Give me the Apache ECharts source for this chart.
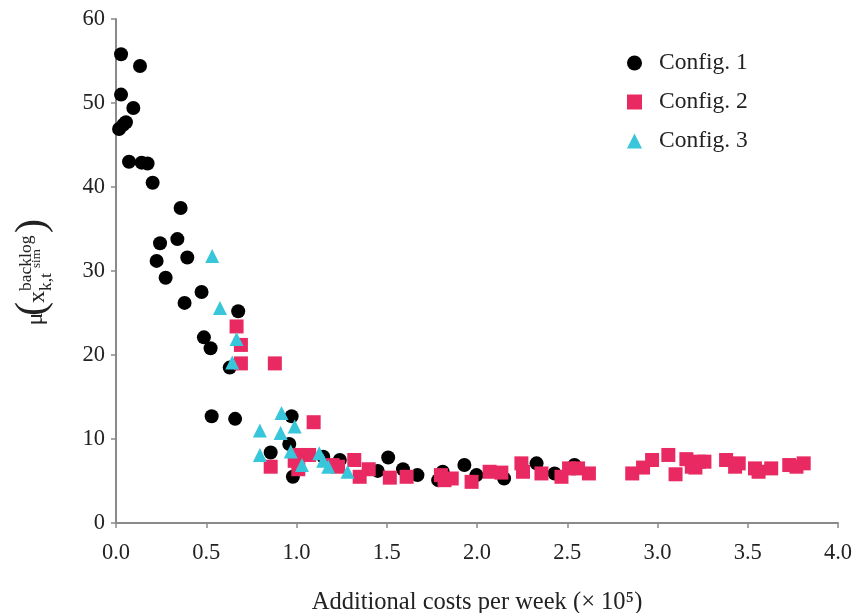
<!DOCTYPE html>
<html>
<head>
<meta charset="utf-8">
<script src="https://cdn.jsdelivr.net/npm/echarts@6/dist/echarts.min.js"></script>
<style>html,body{margin:0;padding:0;background:#fff;}#c{width:853px;height:613px;}</style>
</head>
<body>
<div id="c"></div>
<script>
var xTicks = ['0.0','0.5','1.0','1.5','2.0','2.5','3.0','3.5','4.0'];
var yTicks = [0,10,20,30,40,50,60];
var seriesNames = ['Config. 1','Config. 2','Config. 3'];
var config1 = [[0.028,55.8],[0.133,54.4],[0.028,51.0],[0.096,49.4],[0.055,47.7],[0.04,47.4],[0.017,46.9],[0.072,43.0],[0.142,42.9],[0.175,42.8],[0.203,40.5],[0.358,37.5],[0.244,33.3],[0.34,33.8],[0.225,31.2],[0.395,31.6],[0.275,29.2],[0.38,26.2],[0.474,27.5],[0.487,22.1],[0.524,20.8],[0.677,25.2],[0.63,18.5],[0.53,12.7],[0.66,12.4],[0.973,12.7],[0.96,9.4],[0.857,8.4],[0.98,5.5],[1.148,7.9],[1.24,7.5],[1.45,6.2],[1.508,7.8],[1.59,6.4],[1.67,5.7],[1.785,5.1],[1.81,6.1],[1.93,6.9],[1.997,5.7],[2.15,5.3],[2.33,7.1],[2.43,5.9],[2.54,6.9]];
var config2 = [[0.668,23.4],[0.692,21.2],[0.692,19.0],[0.88,19.0],[1.095,12.0],[0.857,6.7],[1.0,8.1],[0.99,7.4],[1.01,6.4],[1.07,8.1],[1.2,6.9],[1.23,6.7],[1.32,7.5],[1.35,5.5],[1.40,6.4],[1.517,5.4],[1.61,5.5],[1.80,5.7],[1.82,5.1],[1.86,5.3],[1.97,4.9],[2.07,6.1],[2.135,6.0],[2.246,7.1],[2.255,6.1],[2.357,5.9],[2.468,5.5],[2.51,6.5],[2.56,6.5],[2.62,5.9],[2.86,5.9],[2.92,6.6],[2.97,7.5],[3.06,8.1],[3.10,5.8],[3.16,7.6],[3.19,6.7],[3.23,7.3],[3.21,6.6],[3.26,7.3],[3.38,7.5],[3.43,6.7],[3.45,7.1],[3.54,6.5],[3.56,6.1],[3.63,6.5],[3.73,6.9],[3.77,6.7],[3.81,7.1]];
var config3 = [[0.533,31.8],[0.576,25.6],[0.668,21.9],[0.644,19.1],[0.917,13.1],[0.99,11.5],[0.797,11.0],[0.912,10.7],[0.797,8.1],[0.968,8.5],[1.03,6.9],[1.126,8.3],[1.148,7.4],[1.176,6.7],[1.283,6.1]];

var SERIF = '"Liberation Serif", "DejaVu Serif", serif';
var chart = echarts.init(document.getElementById('c'), null, {renderer:'canvas'});
chart.setOption({
  animation:false,
  backgroundColor:'#fff',
  grid:{left:116, right:15, top:19, bottom:90, containLabel:false, outerBoundsMode:'none'},
  legend:{
    orient:'vertical', left:622, top:46, itemGap:15, itemWidth:15, itemHeight:15,
    data:seriesNames,
    textStyle:{fontFamily:SERIF, fontSize:23.5, color:'#222', padding:[0,0,0,12]}
  },
  xAxis:{
    type:'value', min:0, max:4, interval:0.5,
    axisLine:{lineStyle:{color:'#8a8a8a', width:2}},
    axisTick:{show:true, length:5, lineStyle:{color:'#8a8a8a', width:1.5}},
    splitLine:{show:false},
    axisLabel:{margin:19, fontFamily:SERIF, fontSize:22.5, color:'#222',
      formatter:function(v){var i=Math.round(v/0.5);return xTicks[i];}},
    name:'Additional costs per week (× 10⁵)', nameLocation:'middle', nameGap:67,
    nameTextStyle:{fontFamily:SERIF, fontSize:24.5, color:'#222'}
  },
  yAxis:{
    type:'value', min:0, max:60, interval:10,
    axisLine:{show:true, lineStyle:{color:'#8a8a8a', width:2}},
    axisTick:{show:true, length:5, lineStyle:{color:'#8a8a8a', width:1.5}},
    splitLine:{show:false},
    axisLabel:{margin:11, fontFamily:SERIF, fontSize:22.5, color:'#222',
      formatter:function(v){return String(yTicks[Math.round(v/10)]);}}
  },
  graphic:[{
    type:'group', x:36, y:274, rotation:Math.PI/2,
    children:[
      {type:'text', x:-45, y:0, style:{text:'μ', fontFamily:SERIF, fontSize:24, fill:'#222', align:'center', verticalAlign:'middle'}},
      {type:'text', x:-35, y:-3, style:{text:'(', fontFamily:SERIF, fontSize:42, fill:'#222', align:'center', verticalAlign:'middle'}},
      {type:'text', x:-23, y:2, style:{text:'x', fontFamily:SERIF, fontSize:24, fill:'#222', align:'center', verticalAlign:'middle'}},
      {type:'text', x:-17, y:-10, style:{text:'backlog', fontFamily:SERIF, fontSize:17.5, fill:'#222', align:'left', verticalAlign:'middle'}},
      {type:'text', x:-17, y:10, style:{text:'k,t', fontFamily:SERIF, fontSize:17.5, fill:'#222', align:'left', verticalAlign:'middle'}},
      {type:'text', x:6, y:1, style:{text:'sim', fontFamily:SERIF, fontSize:13, fill:'#222', align:'left', verticalAlign:'middle'}},
      {type:'text', x:48, y:-3, style:{text:')', fontFamily:SERIF, fontSize:42, fill:'#222', align:'center', verticalAlign:'middle'}}
    ]
  }],
  series:[
    {name:seriesNames[0], type:'scatter', symbol:'circle', symbolSize:14, data:config1, itemStyle:{color:'#000000', opacity:1}},
    {name:seriesNames[1], type:'scatter', symbol:'rect', symbolSize:14, data:config2, itemStyle:{color:'#E92A62', opacity:1}},
    {name:seriesNames[2], type:'scatter', symbol:'triangle', symbolSize:14, data:config3, itemStyle:{color:'#38C6DA', opacity:1}}
  ]
});
</script>
</body>
</html>
